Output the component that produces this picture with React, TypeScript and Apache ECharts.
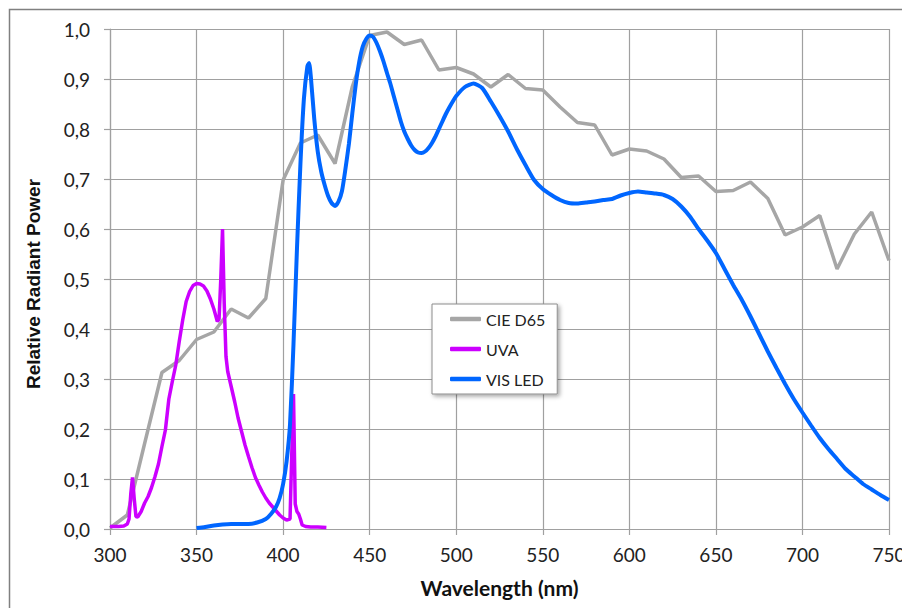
import React, { useEffect, useRef } from "react";
import * as echarts from "echarts";

const d65Wavelengths = [300, 310, 320, 330, 340, 350, 360, 370, 380, 390, 400, 410, 420, 430, 440, 450, 460, 470, 480, 490, 500, 510, 520, 530, 540, 550, 560, 570, 580, 590, 600, 610, 620, 630, 640, 650, 660, 670, 680, 690, 700, 710, 720, 730, 740, 750];
const d65Values = [0.002, 0.028, 0.171, 0.313, 0.337, 0.379, 0.394, 0.44, 0.422, 0.461, 0.698, 0.772, 0.788, 0.731, 0.885, 0.987, 0.994, 0.969, 0.978, 0.918, 0.923, 0.91, 0.884, 0.909, 0.881, 0.878, 0.844, 0.813, 0.808, 0.748, 0.76, 0.756, 0.74, 0.703, 0.706, 0.675, 0.677, 0.694, 0.661, 0.588, 0.604, 0.627, 0.52, 0.59, 0.634, 0.537];

const uvaWavelengths = [300, 305, 308, 310, 311, 312, 313, 314, 315, 316, 318, 320, 322, 324, 326, 328, 330, 332, 334, 336, 338, 340, 342, 344, 346, 348, 350, 352, 354, 356, 358, 360, 362, 363, 364, 365, 366, 367, 368, 370, 372, 374, 376, 378, 380, 382, 384, 386, 388, 390, 392, 394, 396, 398, 400, 402, 404, 405, 406, 407, 408, 409, 410, 411, 413, 416, 420, 425];
const uvaValues = [0.005, 0.005, 0.006, 0.01, 0.02, 0.07, 0.103, 0.06, 0.025, 0.024, 0.035, 0.052, 0.065, 0.083, 0.105, 0.13, 0.165, 0.198, 0.26, 0.295, 0.328, 0.375, 0.418, 0.455, 0.475, 0.487, 0.491, 0.49, 0.486, 0.476, 0.46, 0.44, 0.415, 0.42, 0.5, 0.6, 0.45, 0.345, 0.315, 0.285, 0.255, 0.222, 0.195, 0.168, 0.145, 0.123, 0.103, 0.088, 0.074, 0.062, 0.052, 0.044, 0.036, 0.028, 0.022, 0.018, 0.02, 0.15, 0.27, 0.05, 0.035, 0.03, 0.02, 0.008, 0.005, 0.004, 0.004, 0.003];

const visWavelengths = [350, 355, 360, 365, 370, 375, 380, 385, 390, 393, 396, 398, 400, 402, 404, 406, 408, 410, 412, 414, 415, 416, 418, 420, 422, 424, 426, 428, 430, 432, 434, 436, 438, 440, 442, 444, 446, 448, 450, 452, 454, 456, 458, 460, 462, 464, 466, 468, 470, 472, 474, 476, 478, 480, 482, 484, 486, 488, 490, 492, 494, 496, 498, 500, 505, 510, 515, 520, 525, 530, 535, 540, 545, 550, 555, 560, 565, 570, 575, 580, 585, 590, 595, 600, 605, 610, 615, 620, 625, 630, 635, 640, 645, 650, 655, 660, 665, 670, 675, 680, 685, 690, 695, 700, 705, 710, 715, 720, 725, 730, 735, 740, 745, 750];
const visValues = [0.002, 0.004, 0.007, 0.009, 0.01, 0.01, 0.01, 0.013, 0.02, 0.03, 0.045, 0.062, 0.09, 0.135, 0.21, 0.37, 0.56, 0.73, 0.86, 0.925, 0.932, 0.905, 0.82, 0.755, 0.715, 0.688, 0.666, 0.652, 0.646, 0.655, 0.676, 0.72, 0.77, 0.832, 0.89, 0.935, 0.965, 0.98, 0.987, 0.984, 0.972, 0.955, 0.935, 0.912, 0.89, 0.865, 0.84, 0.815, 0.795, 0.78, 0.767, 0.758, 0.753, 0.752, 0.755, 0.762, 0.772, 0.785, 0.8, 0.815, 0.83, 0.843, 0.855, 0.866, 0.884, 0.891, 0.882, 0.855, 0.826, 0.795, 0.76, 0.728, 0.698, 0.68, 0.668, 0.658, 0.652, 0.651, 0.653, 0.655, 0.658, 0.66, 0.667, 0.672, 0.675, 0.673, 0.671, 0.668, 0.66, 0.645, 0.625, 0.6, 0.577, 0.552, 0.52, 0.488, 0.458, 0.425, 0.39, 0.355, 0.322, 0.29, 0.26, 0.233, 0.207, 0.182, 0.16, 0.14, 0.12, 0.105, 0.09, 0.079, 0.068, 0.058];

const seriesNames = ["CIE D65", "UVA", "VIS LED"];
const seriesColors = ["#a6a6a6", "#cc00ff", "#0066ff"];

const pairs = (xs: number[], ys: number[]) => xs.map((x, i) => [x, ys[i]]);

export default function App() {
  const ref = useRef<HTMLDivElement>(null);
  useEffect(() => {
    if (!ref.current) return;
    const chart = echarts.init(ref.current, null, { renderer: "svg" });
    const font = "Lato, 'Open Sans', sans-serif";
    const gridColor = "#a0a0a0";
    chart.setOption({
      animation: false,
      backgroundColor: "#ffffff",
      graphic: [
        {
          type: "rect",
          shape: { x: 9.5, y: 9.5, width: 1000, height: 1000 },
          style: { fill: "none", stroke: "#808080", lineWidth: 1.5 },
          silent: true,
        },
      ],
      grid: { left: 110, top: 29, width: 779, height: 500, outerBoundsMode: "none", containLabel: false },
      legend: {
        orient: "vertical",
        left: 432,
        top: 304,
        padding: [7, 12, 7, 18],
        itemWidth: 31,
        itemHeight: 4.5,
        itemGap: 14,
        icon: "roundRect",
        backgroundColor: "#ffffff",
        borderColor: "#8c8c8c",
        borderWidth: 1,
        shadowColor: "rgba(0,0,0,0.35)",
        shadowBlur: 4,
        shadowOffsetX: 2,
        shadowOffsetY: 2,
        textStyle: { fontFamily: font, fontSize: 16, color: "#222" },
        data: seriesNames,
      },
      xAxis: {
        type: "value",
        min: 300,
        max: 750,
        interval: 50,
        name: "Wavelength (nm)",
        nameLocation: "middle",
        nameGap: 48,
        nameTextStyle: { fontFamily: font, fontSize: 21, fontWeight: "bold", color: "#111" },
        axisLine: { show: true, lineStyle: { color: gridColor, width: 1.2 } },
        axisTick: { show: true, length: 6, lineStyle: { color: gridColor, width: 1.2 } },
        axisLabel: { fontFamily: font, fontSize: 19, color: "#222", margin: 16 },
        splitLine: { show: true, lineStyle: { color: gridColor, width: 1.2 } },
      },
      yAxis: {
        type: "value",
        min: 0,
        max: 1,
        interval: 0.1,
        name: "Relative Radiant Power",
        nameLocation: "middle",
        nameGap: 67,
        nameTextStyle: {
          fontFamily: "'Liberation Sans', Arial, sans-serif",
          fontSize: 19,
          fontWeight: "bold",
          color: "#111",
          padding: [0, 10, 0, 0],
        },
        axisLine: { show: true, lineStyle: { color: gridColor, width: 1.2 } },
        axisTick: { show: true, length: 6, lineStyle: { color: gridColor, width: 1.2 } },
        axisLabel: {
          fontFamily: font,
          fontSize: 19,
          color: "#222",
          margin: 20,
          formatter: (v: number) => v.toFixed(1).replace(".", ","),
        },
        splitLine: { show: true, lineStyle: { color: gridColor, width: 1.2 } },
      },
      series: [
        {
          name: seriesNames[0],
          type: "line",
          data: pairs(d65Wavelengths, d65Values),
          showSymbol: false,
          symbol: "none",
          color: seriesColors[0],
          lineStyle: { color: seriesColors[0], width: 3.5 },
          z: 2,
        },
        {
          name: seriesNames[1],
          type: "line",
          data: pairs(uvaWavelengths, uvaValues),
          showSymbol: false,
          symbol: "none",
          color: seriesColors[1],
          lineStyle: { color: seriesColors[1], width: 3.5 },
          z: 3,
        },
        {
          name: seriesNames[2],
          type: "line",
          data: pairs(visWavelengths, visValues),
          showSymbol: false,
          symbol: "none",
          smooth: 0.2,
          color: seriesColors[2],
          lineStyle: { color: seriesColors[2], width: 4 },
          z: 4,
        },
      ],
    });
    return () => chart.dispose();
  }, []);
  return <div ref={ref} style={{ width: 902, height: 608, position: "absolute", left: 0, top: 0 }} />;
}
